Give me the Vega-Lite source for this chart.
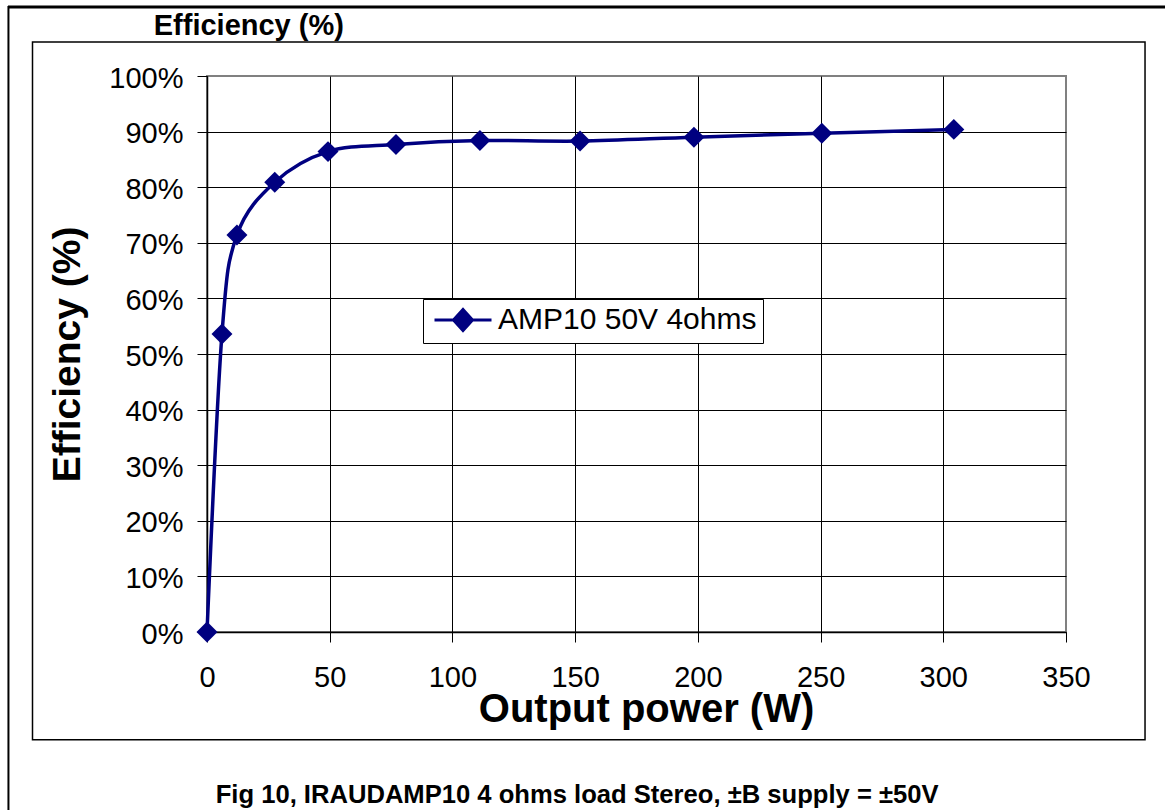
{
  "$schema": "https://vega.github.io/schema/vega-lite/v6.json",
  "width": 859,
  "height": 556,
  "autosize": {"type": "none"},
  "padding": {"left": 207, "top": 76, "right": 99, "bottom": 178},
  "background": "white",
  "config": {
    "font": "Liberation Sans",
    "view": {"stroke": "#808080", "strokeWidth": 2},
    "axis": {"labelColor": "black", "titleColor": "black", "tickColor": "black", "domainColor": "black", "labelFont": "Liberation Sans", "titleFont": "Liberation Sans"}
  },
  "data": {
    "values": [
      {"power": 0, "eff": 0, "series": "AMP10 50V 4ohms"},
      {"power": 6.1, "eff": 53.6, "series": "AMP10 50V 4ohms"},
      {"power": 12.2, "eff": 71.4, "series": "AMP10 50V 4ohms"},
      {"power": 27.6, "eff": 80.9, "series": "AMP10 50V 4ohms"},
      {"power": 49.3, "eff": 86.4, "series": "AMP10 50V 4ohms"},
      {"power": 77.0, "eff": 87.7, "series": "AMP10 50V 4ohms"},
      {"power": 111.2, "eff": 88.4, "series": "AMP10 50V 4ohms"},
      {"power": 152.0, "eff": 88.3, "series": "AMP10 50V 4ohms"},
      {"power": 198.4, "eff": 89.0, "series": "AMP10 50V 4ohms"},
      {"power": 250.5, "eff": 89.7, "series": "AMP10 50V 4ohms"},
      {"power": 304.3, "eff": 90.4, "series": "AMP10 50V 4ohms"}
    ]
  },
  "layer": [
    {
      "data": {"values": [{}]},
      "mark": {"type": "rect", "fill": "transparent", "stroke": "black", "strokeWidth": 1.5, "clip": false},
      "encoding": {
        "x": {"datum": -71.1, "type": "quantitative", "scale": {"domain": [0, 350], "nice": false}},
        "x2": {"datum": 382.2},
        "y": {"datum": 106.1, "type": "quantitative", "scale": {"domain": [0, 100], "nice": false}},
        "y2": {"datum": -19.4}
      }
    },
    {
      "data": {"values": [{}]},
      "mark": {"type": "rule", "stroke": "black", "strokeWidth": 3, "clip": false},
      "encoding": {
        "x": {"datum": -81.1, "type": "quantitative", "scale": {"domain": [0, 350], "nice": false}},
        "x2": {"datum": 392},
        "y": {"datum": 112.4, "type": "quantitative", "scale": {"domain": [0, 100], "nice": false}}
      }
    },
    {
      "data": {"values": [{}]},
      "mark": {"type": "rule", "stroke": "black", "strokeWidth": 2, "clip": false},
      "encoding": {
        "x": {"datum": -80.9, "type": "quantitative", "scale": {"domain": [0, 350], "nice": false}},
        "y": {"datum": 112.6, "type": "quantitative", "scale": {"domain": [0, 100], "nice": false}},
        "y2": {"datum": -33}
      }
    },
    {
      "data": {"values": [{}]},
      "mark": {"type": "text", "text": "Efficiency (%)", "font": "Liberation Sans", "fontWeight": "bold", "fontSize": 29, "align": "left", "baseline": "alphabetic", "color": "black", "clip": false},
      "encoding": {
        "x": {"datum": -21.7, "type": "quantitative", "scale": {"domain": [0, 350], "nice": false}},
        "y": {"datum": 107.4, "type": "quantitative", "scale": {"domain": [0, 100], "nice": false}}
      }
    },
    {
      "data": {"values": [{}]},
      "mark": {"type": "text", "text": "Fig 10, IRAUDAMP10 4 ohms load Stereo, ±B supply = ±50V", "font": "Liberation Sans", "fontWeight": "bold", "fontSize": 25.6, "align": "center", "baseline": "alphabetic", "color": "black", "clip": false},
      "encoding": {
        "x": {"datum": 150.8, "type": "quantitative", "scale": {"domain": [0, 350], "nice": false}},
        "y": {"datum": -30.8, "type": "quantitative", "scale": {"domain": [0, 100], "nice": false}}
      }
    },
    {
      "mark": {
        "type": "line",
        "interpolate": "cardinal",
        "strokeWidth": 3.5,
        "point": {"shape": "diamond", "size": 440, "filled": true, "color": "#000080", "opacity": 1}
      },
      "encoding": {
        "x": {
          "field": "power",
          "type": "quantitative",
          "scale": {"domain": [0, 350], "nice": false},
          "axis": {
            "values": [0, 50, 100, 150, 200, 250, 300, 350],
            "tickSize": 10,
            "tickWidth": 1,
            "domainWidth": 1.5,
            "grid": true,
            "gridColor": "black",
            "gridWidth": 1,
            "gridOpacity": {"condition": {"test": "datum.value === 350", "value": 0}, "value": 1},
            "labelFontSize": 29,
            "labelPadding": 21,
            "labelFlush": false,
            "labelOverlap": false,
            "title": "Output power (W)",
            "titleFontSize": 40,
            "titleFontWeight": "bold",
            "titlePadding": -3,
            "titleX": 439
          }
        },
        "y": {
          "field": "eff",
          "type": "quantitative",
          "scale": {"domain": [0, 100], "nice": false},
          "axis": {
            "values": [0, 10, 20, 30, 40, 50, 60, 70, 80, 90, 100],
            "labelExpr": "datum.value + '%'",
            "tickSize": 10,
            "tickWidth": 1,
            "domainWidth": 1.5,
            "grid": true,
            "gridColor": "black",
            "gridWidth": 1,
            "gridOpacity": {"condition": {"test": "datum.value === 100", "value": 0}, "value": 1},
            "labelFontSize": 29,
            "labelPadding": 14,
            "labelOffset": 2,
            "labelFlush": false,
            "labelOverlap": false,
            "title": "Efficiency (%)",
            "titleFontSize": 39,
            "titleFontWeight": "bold",
            "titlePadding": 21
          }
        },
        "color": {
          "field": "series",
          "type": "nominal",
          "scale": {"range": ["#000080"]},
          "legend": {
            "orient": "none",
            "legendX": 216,
            "legendY": 223,
            "title": null,
            "padding": 6,
            "strokeColor": "black",
            "fillColor": "white",
            "cornerRadius": 0,
            "labelFont": "Liberation Sans",
            "labelFontSize": 30,
            "labelColor": "black",
            "labelLimit": 500,
            "symbolType": "M-3,0L3,0M0,-1.1L1,0L0,1.1L-1,0Z",
            "symbolSize": 361,
            "symbolStrokeWidth": 3,
            "symbolFillColor": "#000080",
            "symbolStrokeColor": "#000080",
            "symbolOffset": 19,
            "labelOffset": 20
          }
        }
      }
    }
  ]
}
